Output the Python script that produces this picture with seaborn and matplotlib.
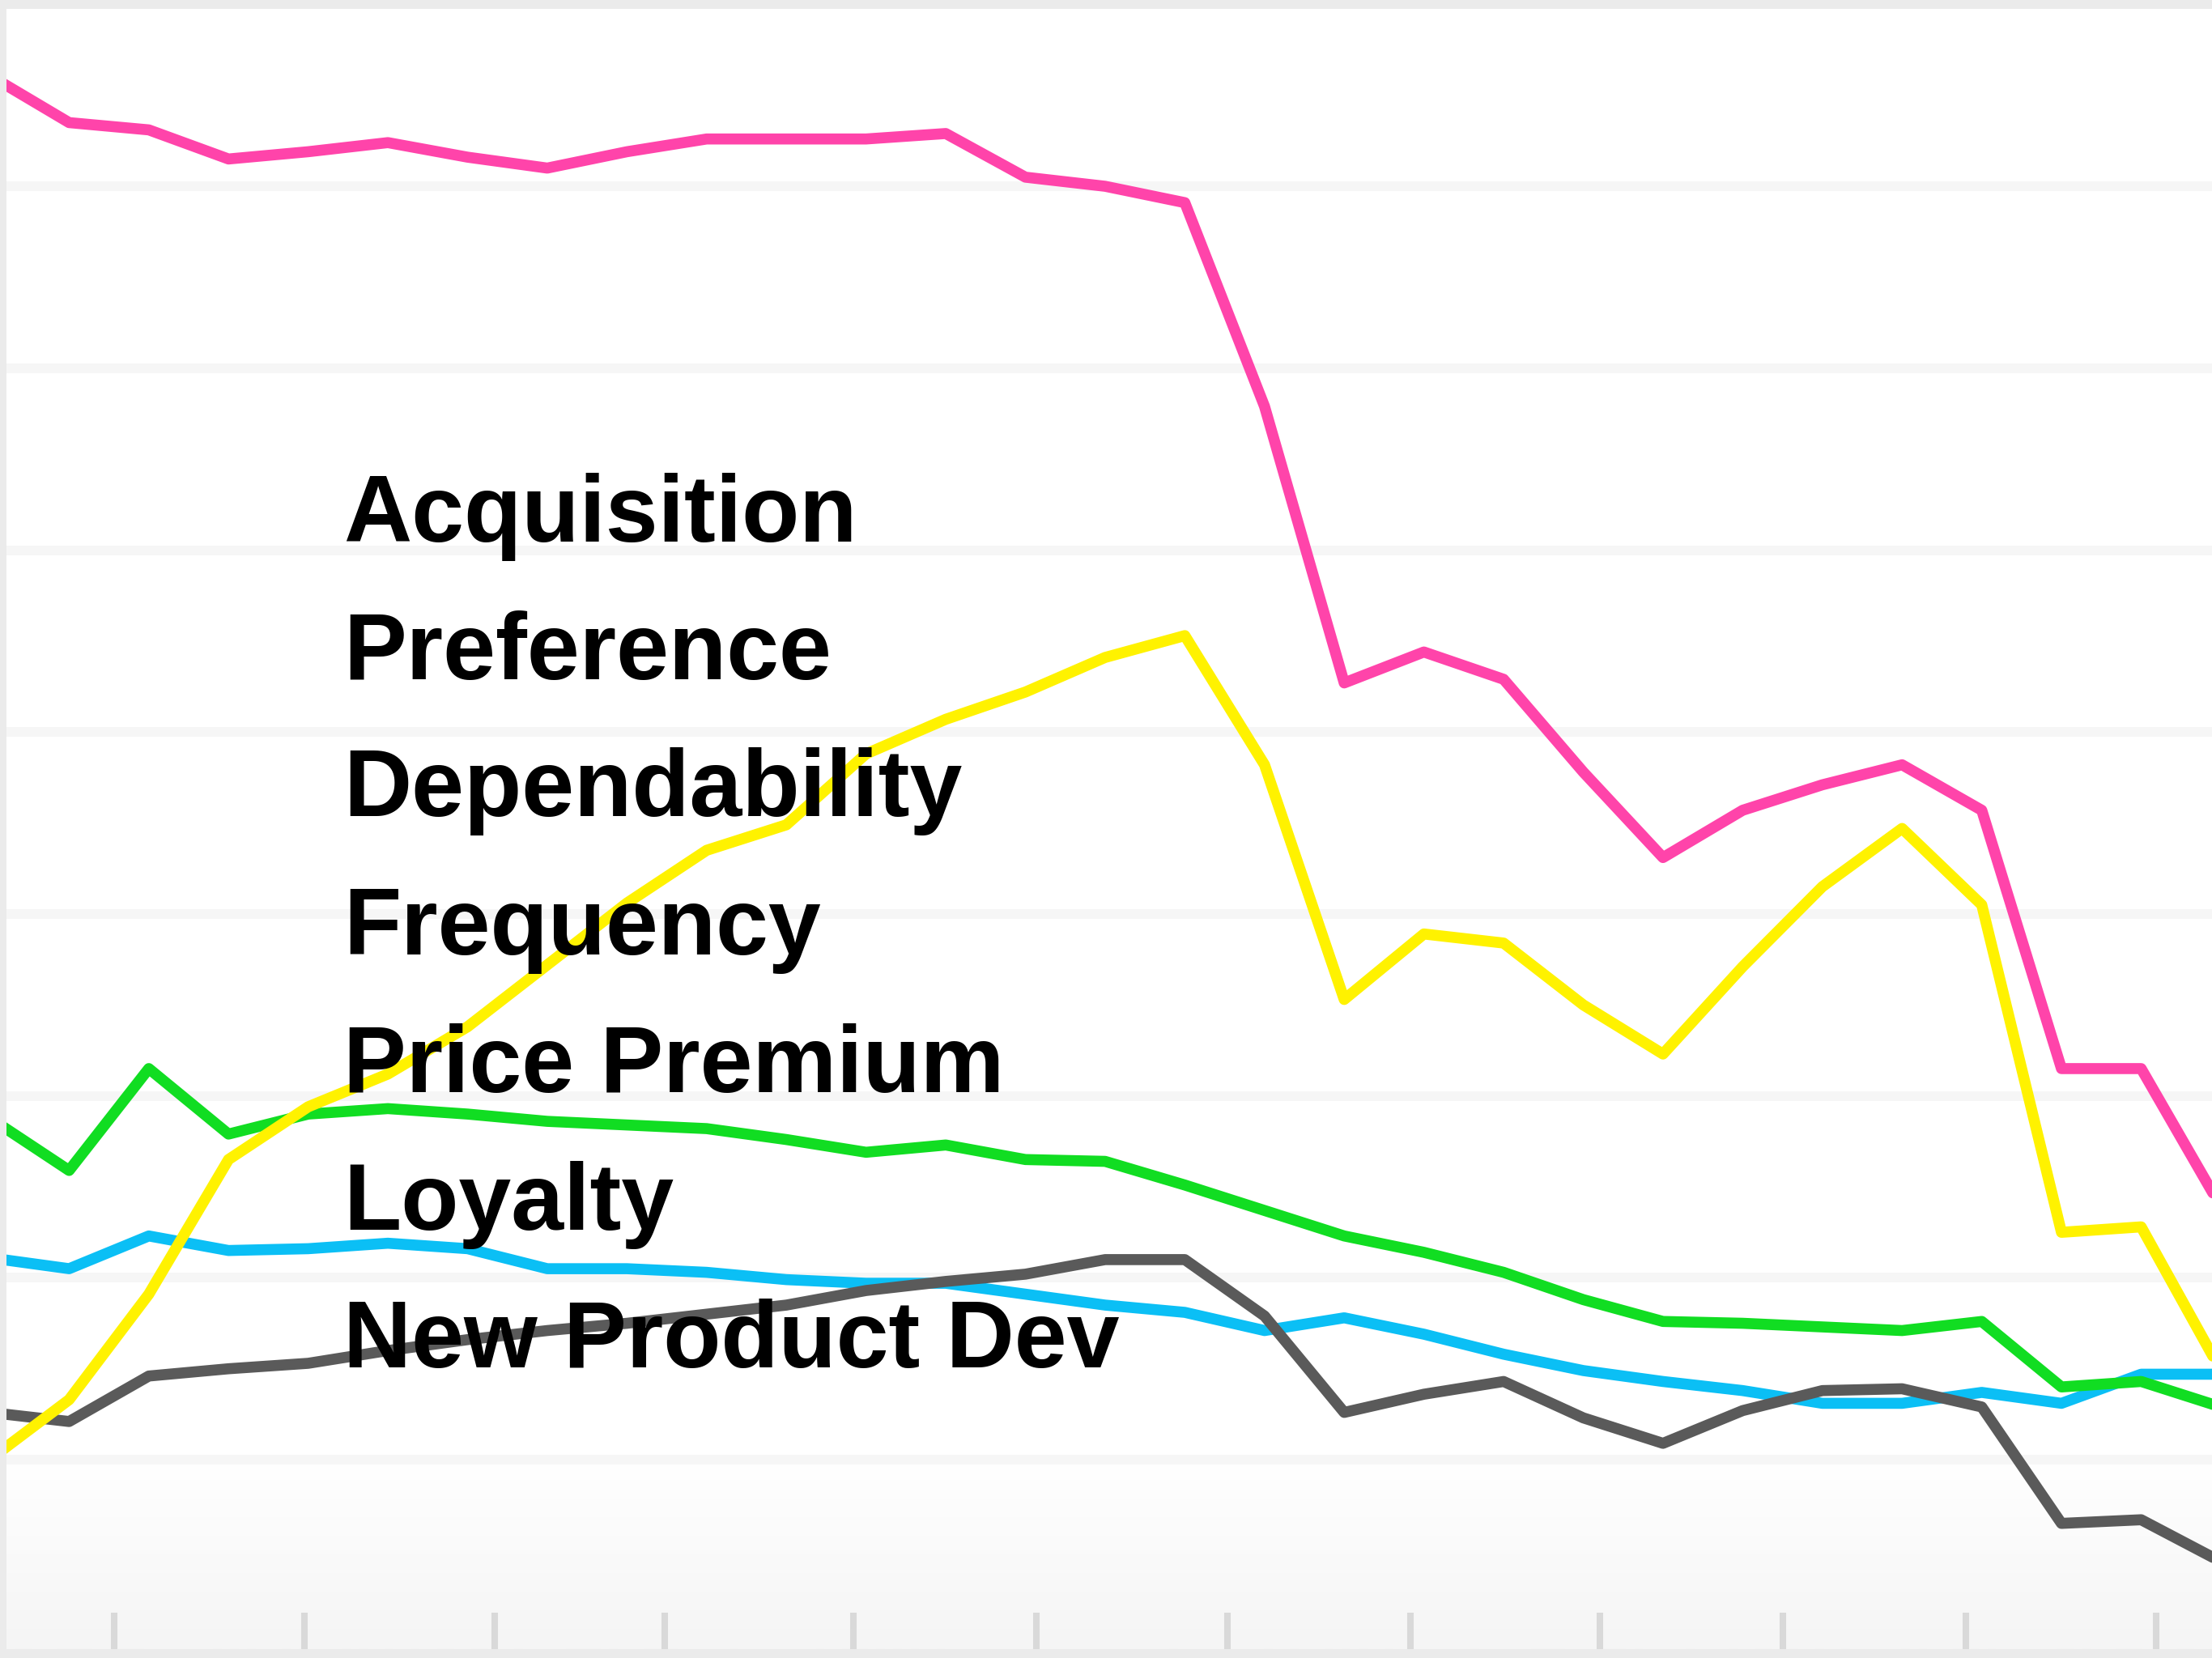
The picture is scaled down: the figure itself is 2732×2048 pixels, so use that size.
import numpy as np
import pandas as pd
import matplotlib.pyplot as plt
import seaborn as sns

# values, one point per period
period = list(range(29))
pink = [76.1, 73.5, 73.1, 71.5, 71.9, 72.4, 71.6, 71.0, 71.9, 72.6, 72.6, 72.6, 72.9, 70.5, 70.0,
        69.1, 57.9, 42.7, 44.4, 42.9, 37.8, 33.1, 35.7, 37.1, 38.2, 35.7, 21.5, 21.5, 13.9]
yellow = [0.0, 3.3, 9.1, 16.5, 19.4, 21.2, 23.8, 27.2, 30.6, 33.5, 34.9, 38.8, 40.7, 42.2, 44.1,
          45.3, 38.2, 25.3, 28.9, 28.4, 25.0, 22.3, 27.1, 31.5, 34.7, 30.5, 12.5, 12.8, 4.9]
green = [18.8, 15.9, 21.5, 17.9, 19.0, 19.3, 19.0, 18.6, 18.4, 18.2, 17.6, 16.9, 17.3, 16.5, 16.4,
         15.1, 13.7, 12.3, 11.4, 10.3, 8.8, 7.6, 7.5, 7.3, 7.1, 7.6, 4.0, 4.3, 2.9]
blue = [11.1, 10.5, 12.3, 11.5, 11.6, 11.9, 11.6, 10.5, 10.5, 10.3, 9.9, 9.7, 9.7, 9.1, 8.5,
        8.1, 7.1, 7.8, 6.9, 5.8, 4.9, 4.3, 3.8, 3.1, 3.1, 3.7, 3.1, 4.7, 4.7]
gray = [2.6, 2.1, 4.6, 5.0, 5.3, 6.0, 6.6, 7.1, 7.5, 8.0, 8.5, 9.3, 9.8, 10.2, 11.0,
        11.0, 7.9, 2.6, 3.6, 4.3, 2.3, 0.9, 2.7, 3.8, 3.9, 2.9, -3.5, -3.3, -5.6]

labels = ["Acquisition", "Preference", "Dependability", "Frequency",
          "Price Premium", "Loyalty", "New Product Dev"]
tick_pos = [1.565, 3.956, 6.345, 8.469, 10.841, 13.142, 15.531, 17.832, 20.204, 22.504, 24.805, 27.188]
grid_vals = [0, 10, 20, 30, 40, 50, 60, 70]

colors = {"blue": "#0bbff5", "gray": "#5a5a5a", "green": "#11dd22",
          "yellow": "#fff200", "pink": "#ff44aa"}

frames = []
for name, vals in [("blue", blue), ("gray", gray), ("green", green), ("yellow", yellow), ("pink", pink)]:
    frames.append(pd.DataFrame({"period": period, "value": vals, "series": name}))
data = pd.concat(frames, ignore_index=True)

sns.set_theme(style="white")
plt.rcParams['font.family'] = ['Liberation Sans', 'DejaVu Sans']

W, H, DPI = 2732, 2048, 200
fig = plt.figure(figsize=(W / DPI, H / DPI), dpi=DPI, facecolor="#ebebeb")
ax = fig.add_axes([8 / W, 11 / H, (W - 8) / W, (2037 - 11) / H])
ax.set_facecolor("white")

xlim = (0.214, 27.889)
ylim = (-10.41, 79.75)

# shaded band under the zero line, white at the top fading to light gray
grad = np.linspace(0, 1, 100).reshape(-1, 1)
ax.imshow(grad, extent=[xlim[0], xlim[1], ylim[0], 0], aspect="auto",
          cmap=sns.blend_palette(["#ffffff", "#f5f5f5"], as_cmap=True), zorder=0)

for g in grid_vals:
    ax.axhline(g, color="#f6f6f6", lw=4.3, zorder=1)

sns.lineplot(data=data, x="period", y="value", hue="series", palette=colors,
             hue_order=["blue", "gray", "green", "yellow", "pink"],
             linewidth=4.9, legend=False, ax=ax, zorder=3)

ax.set_xlim(*xlim)
ax.set_ylim(*ylim)
ax.set_xticks(tick_pos)
ax.set_yticks([])
ax.set_xticklabels([])
ax.tick_params(axis="x", direction="in", length=16.2, width=2.9, color="#d9d9d9", bottom=True)
ax.set_xlabel("")
ax.set_ylabel("")
for s in ax.spines.values():
    s.set_visible(False)

baselines = [669, 839, 1008, 1179, 1349, 1519, 1689]
for lab, b in zip(labels, baselines):
    fig.text(424 / W, 1 - b / H, lab, fontsize=42, fontweight="bold", color="black",
             va="baseline", ha="left", zorder=10)

fig.savefig("out.png", dpi=DPI, facecolor=fig.get_facecolor())
